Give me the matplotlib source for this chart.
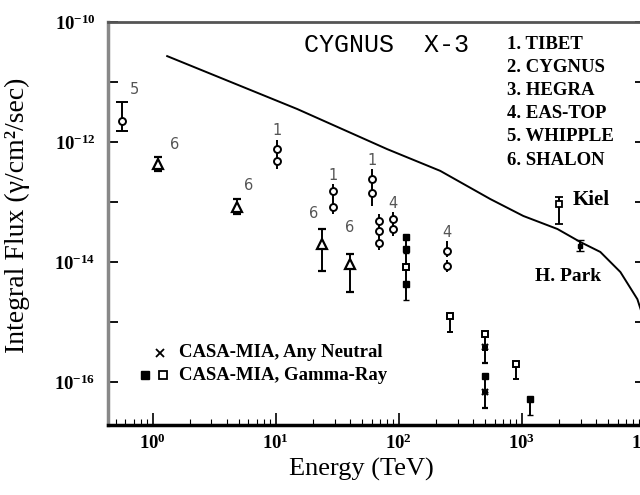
import matplotlib
matplotlib.use("Agg")
import matplotlib.pyplot as plt
from matplotlib.ticker import FixedLocator, LogLocator, NullFormatter, LogFormatterSciNotation

plt.rcParams['font.family'] = 'serif'
plt.rcParams['font.serif'] = ['Liberation Serif', 'DejaVu Serif']
plt.rcParams['font.weight'] = 'bold'

# model curve for the integral flux
curve_E = [1.31, 14.9, 80.4, 217, 553, 1026, 1941, 2985, 4335, 6310, 8670, 10070]
curve_F = [2.7e-11, 3.55e-12, 7.6e-13, 3.3e-13, 1.12e-13, 5.85e-14, 3.55e-14,
           2.15e-14, 1.47e-14, 6.8e-15, 2.4e-15, 9.3e-16]

# 5. WHIPPLE
whipple_E = [0.56]
whipple_F = [2.2e-12]
whipple_lo = [1.5e-12]
whipple_hi = [4.6e-12]

# 6. SHALON
shalon_E = [1.1, 4.85, 23.8, 40.0]
shalon_F = [4.3e-13, 8.3e-14, 2.0e-14, 9.3e-15]
shalon_lo = [3.3e-13, 6.3e-14, 7.1e-15, 3.2e-15]
shalon_hi = [5.6e-13, 1.12e-13, 3.5e-14, 1.35e-14]
shalon_lbl = [(12, 11), (8, 12), (-6, 19), (0, 23)]

# 1. TIBET
tibet_E = [10.2, 10.2, 29.4, 29.4, 60.5, 60.5]
tibet_F = [7.6e-13, 4.8e-13, 1.5e-13, 8.3e-14, 2.4e-13, 1.4e-13]
tibet_lo = [5.5e-13, 3.5e-13, 1.1e-13, 6.3e-14, 1.8e-13, 8.5e-14]
tibet_hi = [1.1e-12, 6.3e-13, 2.0e-13, 1.1e-13, 3.5e-13, 1.8e-13]

# 2./3./4. CYGNUS, HEGRA, EAS-TOP
eas_E = [69, 69, 69, 90, 90, 247, 247]
eas_F = [4.8e-14, 3.3e-14, 2.1e-14, 5.2e-14, 3.5e-14, 1.5e-14, 8.5e-15]
eas_lo = [3.8e-14, 2.6e-14, 1.6e-14, 4.0e-14, 2.7e-14, 1.2e-14, 6.8e-15]
eas_hi = [6.3e-14, 4.2e-14, 2.8e-14, 6.8e-14, 4.5e-14, 2.2e-14, 1.1e-14]

# CASA-MIA upper limits
casa_fill_E = [115, 115, 115, 505, 1170]
casa_fill_F = [2.6e-14, 1.65e-14, 4.3e-15, 1.26e-16, 5.2e-17]
casa_open_E = [115, 260, 505, 890]
casa_open_F = [8.3e-15, 1.26e-15, 6.3e-16, 2.0e-16]
casa_any_E = [505, 505]
casa_any_F = [3.8e-16, 6.8e-17]

# Kiel and Haverah Park
kiel_E, kiel_F, kiel_lo, kiel_hi = [2000], [9.3e-14], [4.3e-14], [1.2e-13]
hpark_E, hpark_F, hpark_lo, hpark_hi = [2990], [1.86e-14], [1.5e-14], [2.3e-14]

experiments = ['1. TIBET', '2. CYGNUS', '3. HEGRA', '4. EAS-TOP', '5. WHIPPLE', '6. SHALON']


def yerr(F, lo, hi):
    return [[f - l for f, l in zip(F, lo)], [h - f for f, h in zip(F, hi)]]


fig = plt.figure(figsize=(6.4, 4.95), dpi=100)
ax = fig.add_axes([108 / 640, 70 / 495, 537 / 640, 403 / 495])
ax.set_xscale('log')
ax.set_yscale('log')
ax.set_xlim(0.433, 1e4)
ax.set_ylim(10 ** -16.717, 1e-10)

ax.plot(curve_E, curve_F, color='black', lw=1.4)

ms = 5
ebkw = dict(color='black', ecolor='black', elinewidth=1.4, linestyle='none')
numkw = dict(textcoords='offset points', ha='center', fontsize=10.5,
             family='DejaVu Sans', fontweight='normal', color='#555')

ax.errorbar(whipple_E, whipple_F, yerr=yerr(whipple_F, whipple_lo, whipple_hi),
            fmt='o', mfc='white', ms=ms, mew=1.4, capsize=4, **ebkw)
ax.annotate('5', (whipple_E[0], whipple_F[0]), xytext=(9, 20), **numkw)

ax.errorbar(shalon_E, shalon_F, yerr=yerr(shalon_F, shalon_lo, shalon_hi),
            fmt='^', mfc='white', ms=6.5, mew=1.6, capsize=3, **ebkw)
for e, f, off in zip(shalon_E, shalon_F, shalon_lbl):
    ax.annotate('6', (e, f), xytext=off, **numkw)

ax.errorbar(tibet_E, tibet_F, yerr=yerr(tibet_F, tibet_lo, tibet_hi),
            fmt='o', mfc='white', ms=ms, mew=1.4, capsize=0, **ebkw)
for i in (0, 2, 4):
    ax.annotate('1', (tibet_E[i], tibet_hi[i]), xytext=(0, 3), **numkw)

ax.errorbar(eas_E, eas_F, yerr=yerr(eas_F, eas_lo, eas_hi),
            fmt='o', mfc='white', ms=ms, mew=1.4, capsize=0, **ebkw)
for i in (3, 5):
    ax.annotate('4', (eas_E[i], eas_hi[i]), xytext=(0, 3), **numkw)

# upper limits with short tails below the marker
tail = 0.45
ax.errorbar(casa_fill_E, casa_fill_F, yerr=[[f * tail for f in casa_fill_F], [0] * len(casa_fill_F)],
            fmt='s', mfc='black', ms=ms, capsize=2, **ebkw)
ax.errorbar(casa_open_E, casa_open_F, yerr=[[f * tail for f in casa_open_F], [0] * len(casa_open_F)],
            fmt='s', mfc='white', ms=ms, mew=1.4, capsize=2, **ebkw)
ax.errorbar(casa_any_E, casa_any_F, yerr=[[f * tail for f in casa_any_F], [0] * len(casa_any_F)],
            fmt='x', ms=ms, mew=1.6, capsize=2, **ebkw)

ax.errorbar(kiel_E, kiel_F, yerr=yerr(kiel_F, kiel_lo, kiel_hi),
            fmt='s', mfc='white', ms=4.5, mew=1.3, capsize=3, **ebkw)
ax.annotate('Kiel', (kiel_E[0], kiel_F[0]), xytext=(10, 3), textcoords='offset points',
            fontsize=15, va='center')
ax.errorbar(hpark_E, hpark_F, yerr=yerr(hpark_F, hpark_lo, hpark_hi),
            fmt='s', mfc='black', ms=3.5, capsize=3, **ebkw)
ax.annotate('H. Park', (hpark_E[0], hpark_F[0]), xytext=(-9, -22), textcoords='offset points',
            fontsize=14, ha='center', va='center')

# titles and key
ax.text(0.518, 0.943, 'CYGNUS  X-3', transform=ax.transAxes, ha='center', va='center',
        family='Liberation Mono', fontweight='normal', fontsize=18)
for k, name in enumerate(experiments):
    ax.text(0.743, 0.945 - k * 0.0575, name, transform=ax.transAxes, va='center', fontsize=13.5)

ax.plot([0.097], [0.179], 'x', color='black', ms=5.5, mew=1.3, transform=ax.transAxes)
ax.plot([0.069], [0.124], 's', color='black', ms=5.5, transform=ax.transAxes)
ax.plot([0.102], [0.124], 's', mfc='white', mec='black', ms=5.5, mew=1.3, transform=ax.transAxes)
ax.text(0.133, 0.179, 'CASA-MIA, Any Neutral', transform=ax.transAxes, va='center', fontsize=13.5)
ax.text(0.133, 0.124, 'CASA-MIA, Gamma-Ray', transform=ax.transAxes, va='center', fontsize=13.5)

# axes frame and ticks
ax.yaxis.set_major_locator(FixedLocator([1e-16, 1e-14, 1e-12, 1e-10]))
ax.yaxis.set_minor_locator(FixedLocator([1e-15, 1e-13, 1e-11]))
ax.yaxis.set_major_formatter(LogFormatterSciNotation())
ax.yaxis.set_minor_formatter(NullFormatter())
ax.xaxis.set_major_locator(LogLocator(base=10))
ax.xaxis.set_minor_locator(LogLocator(base=10, subs=range(2, 10)))
ax.xaxis.set_minor_formatter(NullFormatter())

ax.tick_params(axis='both', which='both', direction='in', labelsize=13.5)
ax.tick_params(axis='x', which='major', length=9, width=1.2, pad=6)
ax.tick_params(axis='x', which='minor', length=4, width=0.8)
ax.tick_params(axis='y', which='both', length=7, width=1.3, right=True, pad=9)

ax.spines['left'].set_linewidth(2.5)
ax.spines['left'].set_color('#888888')
ax.spines['bottom'].set_linewidth(2.5)
ax.spines['top'].set_linewidth(2)
ax.spines['top'].set_color('#555555')
ax.spines['right'].set_linewidth(2)

ax.set_xlabel('Energy (TeV)', fontsize=19)
ax.xaxis.set_label_coords(0.471, -0.082)
ax.set_ylabel('Integral Flux (\u03b3/cm\u00b2/sec)', fontsize=20)
ax.yaxis.set_label_coords(-0.145, 0.521)

fig.savefig('out.png', dpi=100)
